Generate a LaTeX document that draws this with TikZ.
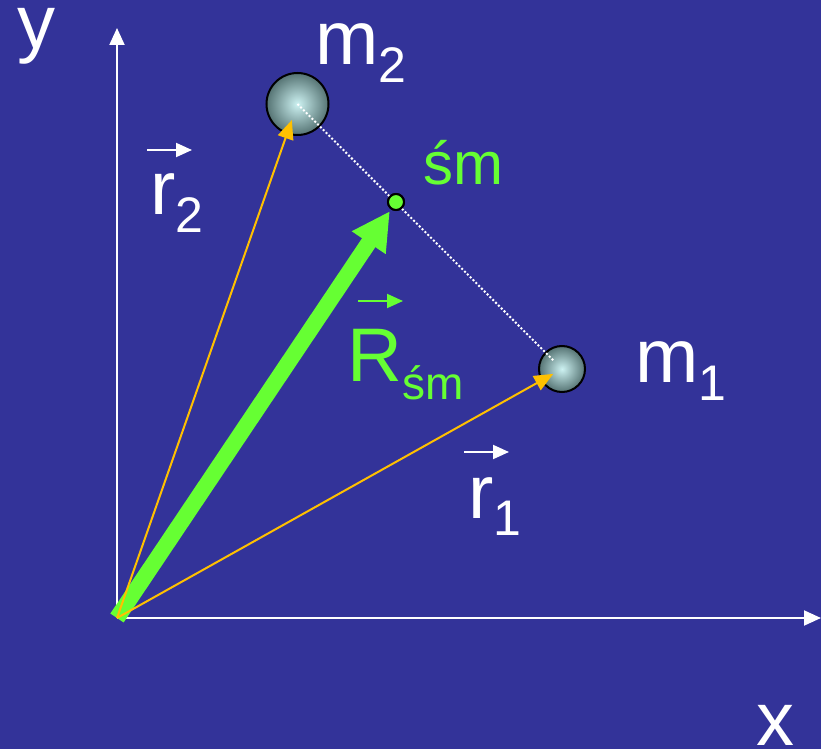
\documentclass[tikz,border=0pt]{standalone}
\usepackage{fontspec}
\setmainfont{Liberation Sans}
\usetikzlibrary{arrows.meta}
\definecolor{slidebg}{RGB}{51,51,153}
\definecolor{cmgreen}{RGB}{102,255,51}
\definecolor{vecorange}{RGB}{255,192,0}
\definecolor{ballin}{RGB}{205,242,242}
\definecolor{ballout}{RGB}{85,115,115}
\newcommand{\sbs}[2][25]{\raisebox{-9pt}{\fontsize{#1}{#1}\selectfont #2}}

\begin{document}
\begin{tikzpicture}[
      x=0.5pt, y=-0.5pt,
      axis/.style={white, line width=1pt, -{Triangle[length=8.5pt, width=7.5pt]}},
      posvec/.style={vecorange, line width=1pt, -{Triangle[length=9.5pt, width=8pt]}},
      cmvec/.style={cmgreen, line width=8pt, -{Triangle[length=19pt, width=19pt]}},
      vecbar/.style={line width=1pt, -{Triangle[length=8pt, width=7pt]}},
      joinline/.style={white, line width=1pt, dash pattern=on 1pt off 1pt},
      ball/.style={circle, draw=black, line width=1pt, inner sep=0pt, inner color=ballin, outer color=ballout},
      cmdot/.style={circle, draw=black, fill=cmgreen, line width=1pt, inner sep=0pt, minimum size=8pt},
      lbl/.style={font=\fontsize{38}{40}\selectfont, text=white, inner sep=0pt, anchor=base west},
      cmlbl/.style={lbl, font=\fontsize{30}{32}\selectfont, text=cmgreen}
    ]
      % background
      \fill[slidebg] (0,0) rectangle (821,749);
      \useasboundingbox (0,0) rectangle (821,749);

      % axes
      \coordinate (O) at (117,618);
      \coordinate (yend) at (117,28);
      \coordinate (xend) at (821,618);
      \draw[axis] (O) -- (yend);
      \draw[axis] (O) -- (xend);

      % masses and centre of mass
      \node[ball, minimum size=31pt] (m2ball) at (297.5,104) {};
      \node[ball, minimum size=23pt] (m1ball) at (562,369) {};
      \node[cmdot] (cm) at (396,202) {};

      % position vectors
      \draw[cmvec, shorten >=5.5pt] (O) -- (cm.center);
      \draw[posvec, shorten >=8.5pt] (O) -- (m2ball.center);
      \draw[posvec, shorten >=5pt] (O) -- (m1ball.center);
      \draw[joinline, shorten >=6pt] (m2ball.center) -- (m1ball.center);
      \node[cmdot] at (cm) {};

      % labels
      \node[lbl] (ylbl) at (17,49) {y};
      \node[lbl] (xlbl) at (756,745) {x};
      \node[lbl] (m2lbl) at (315,65) {m\sbs{2}};
      \node[lbl] (m1lbl) at (635,383) {m\sbs{1}};
      \node[cmlbl] (cmlbl) at (423,185) {śm};
      \node[lbl] (r2lbl) at (150,215) {r\sbs{2}};
      \node[lbl] (r1lbl) at (468,518) {r\sbs{1}};
      \node[lbl, text=cmgreen] (Rlbl) at (347,382) {R\sbs[23]{śm}};

      % vector marks
      \draw[vecbar, white] ([shift={(-3,-65)}]r2lbl.base west) -- ++(45,0);
      \draw[vecbar, white] ([shift={(-4,-66)}]r1lbl.base west) -- ++(45,0);
      \draw[vecbar, cmgreen] ([shift={(11,-81)}]Rlbl.base west) -- ++(45,0);
    \end{tikzpicture}
\end{document}
